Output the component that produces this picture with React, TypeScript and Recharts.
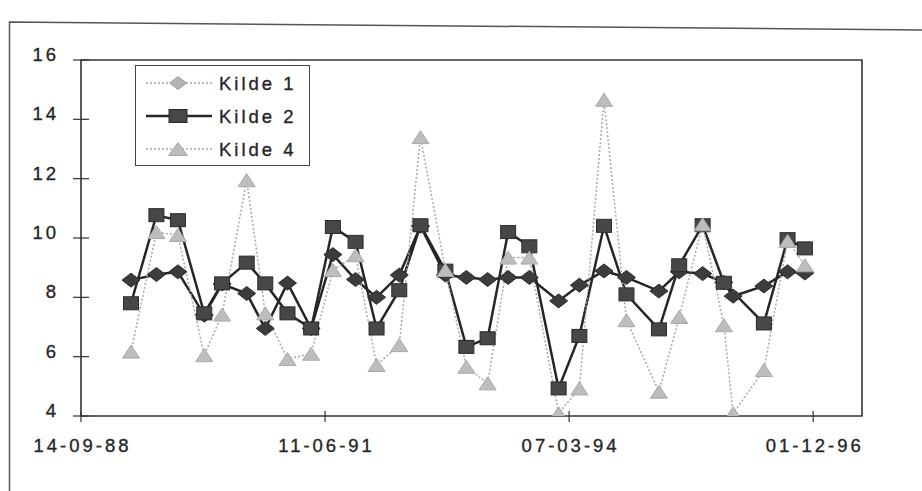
import React from 'react';
import { LineChart, Line, XAxis, YAxis, ReferenceArea, Legend } from 'recharts';

// Sampling dates (ISO) shared by the three sources
const sampleDates = [
  '1989-04-07', '1989-07-20', '1989-10-16', '1990-02-01', '1990-04-15', '1990-07-25',
  '1990-10-09', '1991-01-08', '1991-04-15', '1991-07-13', '1991-10-14', '1992-01-08',
  '1992-04-10', '1992-07-06', '1992-10-16', '1993-01-10', '1993-04-07', '1993-06-30',
  '1993-09-25', '1994-01-23', '1994-04-18', '1994-07-28', '1994-10-28', '1995-03-10',
  '1995-06-01', '1995-09-05', '1995-12-01', '1996-01-08', '1996-05-13', '1996-08-18',
  '1996-10-28',
];

const kilde1 = [
  8.58, 8.77, 8.86, 7.4, 8.45, 8.13, 6.95, 8.48, 6.95, 9.44, 8.6, 8.0, 8.75, 10.4, 8.75,
  8.67, 8.6, 8.67, 8.67, 7.88, 8.41, 8.89, 8.67, 8.21, 8.86, 8.8, 8.5, 8.04, 8.38, 8.86, 8.82,
];

const kilde2: (number | null)[] = [
  7.8, 10.77, 10.6, 7.46, 8.47, 9.17, 8.47, 7.46, 6.95, 10.37, 9.87, 6.95, 8.24, 10.43, 8.9,
  6.33, 6.62, 10.2, 9.72, 4.93, 6.7, 10.41, 8.1, 6.92, 9.08, 10.43, 8.49, null, 7.12, 9.96, 9.65,
];

const kilde4 = [
  6.17, 10.2, 10.1, 6.05, 7.42, 11.95, 7.46, 5.92, 6.1, 8.92, 9.42, 5.72, 6.39, 13.4, 8.92,
  5.66, 5.1, 9.34, 9.34, 4.09, 4.93, 14.66, 7.23, 4.82, 7.34, 10.46, 7.06, 4.09, 5.55, 9.9, 9.08,
];

const seriesNames = ['Kilde 1', 'Kilde 2', 'Kilde 4'];

const yTicks = [4, 6, 8, 10, 12, 14, 16];
const xTickLabels = ['14-09-88', '11-06-91', '07-03-94', '01-12-96'];
const xAxisSpanDays = 3200;

const FONT = '"Liberation Sans", Arial, sans-serif';
const TEXT_COLOR = '#262626';
const DARK_LINE = '#262626';
const LIGHT_LINE = '#a8a8a8';

const DAY_MS = 86400000;
const isoToDay = (iso: string) => {
  const [y, m, d] = iso.split('-').map(Number);
  return Date.UTC(y, m - 1, d) / DAY_MS;
};
const labelToDay = (label: string) => {
  const [d, m, yy] = label.split('-').map(Number);
  return Date.UTC(1900 + yy, m - 1, d) / DAY_MS;
};
const dayToLabel = (day: number) => {
  const dt = new Date(Math.round(day) * DAY_MS);
  const p = (n: number) => String(n).padStart(2, '0');
  return `${p(dt.getUTCDate())}-${p(dt.getUTCMonth() + 1)}-${p(dt.getUTCFullYear() % 100)}`;
};

const xTicks = xTickLabels.map(labelToDay);
const xDomain: [number, number] = [xTicks[0], xTicks[0] + xAxisSpanDays];

const rows = sampleDates.map((iso, i) => ({
  t: isoToDay(iso),
  k1: kilde1[i],
  k2: kilde2[i],
  k4: kilde4[i],
}));

const textStyle = {
  fontFamily: FONT,
  fontSize: 18.5,
  letterSpacing: 3,
  fill: TEXT_COLOR,
  stroke: TEXT_COLOR,
  strokeWidth: 0.35,
};

// Marker shapes
const Diamond = ({ cx, cy, w, h, fill, stroke }: any) => (
  <polygon
    points={`${cx},${cy - h / 2} ${cx + w / 2},${cy} ${cx},${cy + h / 2} ${cx - w / 2},${cy}`}
    fill={fill}
    stroke={stroke}
    strokeWidth={1}
  />
);
const Square = ({ cx, cy, w, h, fill, stroke }: any) => (
  <rect x={cx - w / 2} y={cy - h / 2} width={w} height={h} fill={fill} stroke={stroke} strokeWidth={1} />
);
const Triangle = ({ cx, cy, w, h, fill, stroke }: any) => (
  <polygon
    points={`${cx},${cy - h / 2} ${cx + w / 2},${cy + h / 2} ${cx - w / 2},${cy + h / 2}`}
    fill={fill}
    stroke={stroke}
    strokeWidth={1}
  />
);

const makeDot = (Shape: any, w: number, h: number, fill: string, stroke: string) => (props: any) => {
  const { cx, cy, index, value } = props;
  if (cx == null || cy == null || value == null || Number.isNaN(cy)) {
    return <g key={`d-${index}`} />;
  }
  return (
    <g key={`d-${index}`}>
      <Shape cx={cx} cy={cy} w={w} h={h} fill={fill} stroke={stroke} />
    </g>
  );
};

const YTick = (props: any) => {
  const { x, y, payload } = props;
  const axisX = x + 22;
  return (
    <g>
      <line x1={axisX - 8} x2={axisX + 8} y1={y} y2={y} stroke="#333" strokeWidth={1.2} />
      <text x={x} y={y + 1} textAnchor="end" {...textStyle}>
        {payload.value}
      </text>
    </g>
  );
};

const XTick = (props: any) => {
  const { x, y, payload } = props;
  const axisY = y - 10;
  return (
    <g>
      <line x1={x} x2={x} y1={axisY - 5} y2={axisY + 6} stroke="#333" strokeWidth={1.2} />
      <text x={x + 1.5} y={axisY + 36} textAnchor="middle" {...textStyle}>
        {dayToLabel(payload.value)}
      </text>
    </g>
  );
};

const legendItems = [
  { name: seriesNames[0], dashed: true, line: LIGHT_LINE, width: 1.5, Shape: Diamond, w: 17, h: 13, fill: '#b4b4b4', stroke: '#a0a0a0' },
  { name: seriesNames[1], dashed: false, line: DARK_LINE, width: 2.5, Shape: Square, w: 18, h: 13, fill: '#474747', stroke: '#2a2a2a' },
  { name: seriesNames[2], dashed: true, line: LIGHT_LINE, width: 1.5, Shape: Triangle, w: 19, h: 13, fill: '#bcbcbc', stroke: '#a8a8a8' },
];

const LegendBox = () => (
  <div style={{ width: 175, height: 101, border: '1.5px solid #444', boxSizing: 'border-box', background: '#fff' }}>
    <svg width={172} height={98} style={{ display: 'block' }}>
      {legendItems.map((it, i) => {
        const cy = 17 + i * 33;
        return (
          <g key={it.name}>
            <line
              x1={10}
              x2={76}
              y1={cy}
              y2={cy}
              stroke={it.line}
              strokeWidth={it.width}
              strokeDasharray={it.dashed ? '2 2' : undefined}
            />
            <it.Shape cx={42} cy={cy} w={it.w} h={it.h} fill={it.fill} stroke={it.stroke} />
            <text x={83} y={cy + 6.6} {...textStyle}>
              {it.name}
            </text>
          </g>
        );
      })}
    </svg>
  </div>
);

export default function App() {
  return (
    <div style={{ position: 'absolute', left: 0, top: 0, width: 922, height: 491, background: '#fff' }}>
      <svg width={922} height={491} style={{ position: 'absolute', left: 0, top: 0 }}>
        <polyline points="9.5,491 9.5,22 922,30" fill="none" stroke="#555" strokeWidth={1.5} />
      </svg>
      <div style={{ position: 'absolute', left: 0, top: 0 }}>
        <LineChart width={922} height={491} data={rows} margin={{ top: 60, right: 60, bottom: 0, left: 0 }}>
          <XAxis
            dataKey="t"
            type="number"
            scale="linear"
            domain={xDomain}
            ticks={xTicks}
            allowDataOverflow
            axisLine={false}
            tickSize={0}
            tickMargin={10}
            height={75}
            tick={<XTick />}
            interval={0}
          />
          <YAxis
            type="number"
            domain={[4, 16]}
            ticks={yTicks}
            allowDataOverflow
            axisLine={false}
            tickSize={0}
            tickMargin={22}
            width={81}
            tick={<YTick />}
            interval={0}
          />
          <ReferenceArea x1={xDomain[0]} x2={xDomain[1]} y1={4} y2={16} fill="none" stroke="#333" strokeWidth={1.6} />
          <Legend
            layout="vertical"
            align="center"
            verticalAlign="middle"
            wrapperStyle={{ left: 135, top: 65, width: 175, height: 101 }}
            content={() => <LegendBox />}
          />
          <Line
            dataKey="k1"
            name={seriesNames[0]}
            stroke={DARK_LINE}
            strokeWidth={2.5}
            dot={makeDot(Diamond, 18, 14, '#3c3c3c', '#2c2c2c')}
            activeDot={false}
            isAnimationActive={false}
          />
          <Line
            dataKey="k2"
            name={seriesNames[1]}
            stroke={DARK_LINE}
            strokeWidth={2.5}
            connectNulls
            dot={makeDot(Square, 15, 13, '#474747', '#2a2a2a')}
            activeDot={false}
            isAnimationActive={false}
          />
          <Line
            dataKey="k4"
            name={seriesNames[2]}
            stroke={LIGHT_LINE}
            strokeWidth={1.5}
            strokeDasharray="2 2"
            dot={makeDot(Triangle, 17, 13, '#bdbdbd', '#a8a8a8')}
            activeDot={false}
            isAnimationActive={false}
          />
        </LineChart>
      </div>
    </div>
  );
}
